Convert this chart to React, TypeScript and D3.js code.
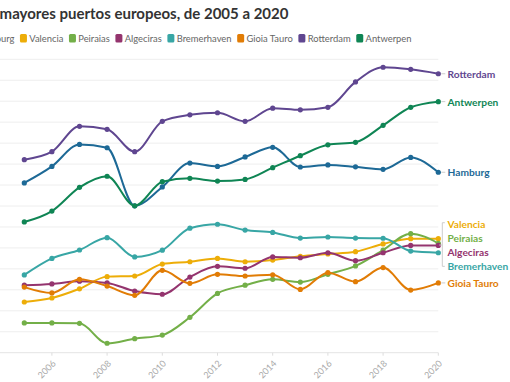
import React, { useEffect, useRef } from 'react';
import * as d3 from 'd3';

const titleText = 'Los 8 mayores puertos europeos, de 2005 a 2020';
const years = [2005, 2006, 2007, 2008, 2009, 2010, 2011, 2012, 2013, 2014, 2015, 2016, 2017, 2018, 2019, 2020];
const xTickYears = [2006, 2008, 2010, 2012, 2014, 2016, 2018, 2020];
const yGridValues = [0, 1, 2, 3, 4, 5, 6, 7, 8, 9, 10, 11, 12, 13, 14];

const seriesNames = ['Hamburg', 'Valencia', 'Peiraias', 'Algeciras', 'Bremerhaven', 'Gioia Tauro', 'Rotterdam', 'Antwerpen'];

const hamburg = [8.10, 8.89, 9.94, 9.78, 7.01, 7.91, 9.05, 8.89, 9.34, 9.80, 8.86, 8.96, 8.87, 8.75, 9.32, 8.61];
const valencia = [2.42, 2.61, 3.05, 3.63, 3.66, 4.23, 4.34, 4.50, 4.34, 4.42, 4.60, 4.71, 4.82, 5.19, 5.44, 5.44];
const peiraias = [1.42, 1.42, 1.40, 0.45, 0.67, 0.84, 1.69, 2.83, 3.22, 3.50, 3.37, 3.74, 4.14, 4.90, 5.68, 5.22];
const algeciras = [3.22, 3.28, 3.41, 3.33, 2.94, 2.79, 3.61, 4.12, 4.03, 4.57, 4.53, 4.77, 4.39, 4.77, 5.12, 5.12];
const bremerhaven = [3.71, 4.50, 4.90, 5.49, 4.57, 4.89, 5.94, 6.13, 5.85, 5.74, 5.47, 5.52, 5.47, 5.46, 4.85, 4.77];
const gioiaTauro = [3.13, 2.85, 3.50, 3.18, 2.74, 3.93, 3.31, 3.74, 3.66, 3.72, 3.02, 3.82, 3.39, 4.06, 2.99, 3.33];
const rotterdam = [9.21, 9.59, 10.80, 10.66, 9.59, 11.04, 11.35, 11.45, 11.04, 11.67, 11.59, 11.71, 12.92, 13.62, 13.52, 13.31];
const antwerpen = [6.24, 6.76, 7.89, 8.42, 7.01, 8.16, 8.32, 8.19, 8.27, 8.83, 9.40, 9.92, 10.04, 10.85, 11.71, 11.98];

const seriesValues = [hamburg, valencia, peiraias, algeciras, bremerhaven, gioiaTauro, rotterdam, antwerpen];
const seriesColors = ['#1D6996', '#EDAD08', '#73AF48', '#94346E', '#38A6A5', '#E17C05', '#5F4690', '#0F8554'];

const W = 510;
const H = 382;
const LEFT = -36;

export default function App() {
  const ref = useRef<SVGSVGElement | null>(null);

  useEffect(() => {
    document.body.style.margin = '0';
    const svg = d3.select(ref.current);
    svg.selectAll('*').remove();

    const x = d3.scaleLinear().domain([2005, 2020]).range([24.3, 438.3]);
    const y = d3.scaleLinear().domain([0, 14]).range([352.7, 59.3]);

    svg.append('rect').attr('width', W).attr('height', H).attr('fill', '#fff');

    // title
    svg.append('text')
      .attr('x', LEFT - 3).attr('y', 18.5)
      .attr('font-family', 'Lato').attr('font-weight', 700).attr('font-size', 15)
      .attr('fill', '#333').text(titleText);

    // legend
    const lg = svg.append('g').attr('font-family', 'Lato').attr('font-size', 9.4);
    let lx = LEFT + 3;
    seriesNames.forEach((name, i) => {
      lg.append('rect').attr('x', lx).attr('y', 34).attr('width', 7).attr('height', 8.5).attr('rx', 1.5)
        .attr('fill', seriesColors[i]);
      const t = lg.append('text').attr('x', lx + 9.3).attr('y', 41.5).attr('fill', '#666').text(name);
      const w = (t.node() as SVGTextElement).getComputedTextLength();
      lx += 9.3 + w + 5.6;
    });

    // gridlines
    const grid = svg.append('g');
    yGridValues.forEach(v => {
      grid.append('line').attr('x1', LEFT).attr('x2', x(2020)).attr('y1', y(v)).attr('y2', y(v))
        .attr('stroke', v === 0 ? '#e4e4e4' : '#eeeeee').attr('stroke-width', 1);
    });

    // x ticks and labels
    const ax = svg.append('g');
    xTickYears.forEach(yr => {
      ax.append('line').attr('x1', x(yr)).attr('x2', x(yr)).attr('y1', y(0)).attr('y2', y(0) + 3)
        .attr('stroke', '#ddd');
      ax.append('text')
        .attr('transform', `translate(${x(yr) + 2},${y(0) + 9}) rotate(-45)`)
        .attr('text-anchor', 'end').attr('dominant-baseline', 'central')
        .attr('font-family', 'Lato').attr('font-size', 9).attr('fill', '#aaa').text(String(yr));
    });

    // lines
    const line = d3.line<number>().x((_, i) => x(years[i])).y(d => y(d)).curve(d3.curveMonotoneX);
    seriesValues.forEach((vals, si) => {
      const g = svg.append('g');
      g.append('path').attr('d', line(vals) as string).attr('fill', 'none')
        .attr('stroke', seriesColors[si]).attr('stroke-width', 2).attr('stroke-linejoin', 'round');
      vals.forEach((v, i) => {
        g.append('circle').attr('cx', x(years[i])).attr('cy', y(v)).attr('r', 2.6).attr('fill', seriesColors[si]);
      });
    });

    // right labels with collision clustering
    const spacing = 14.2;
    const items = seriesNames.map((name, i) => ({ name, color: seriesColors[i], py: y(seriesValues[i][years.length - 1]) }))
      .sort((a, b) => a.py - b.py);
    const clusters: { members: typeof items; center: number }[] = [];
    items.forEach(it => {
      const last = clusters[clusters.length - 1];
      if (last && it.py - last.members[last.members.length - 1].py < spacing) {
        last.members.push(it);
      } else {
        clusters.push({ members: [it], center: 0 });
      }
    });
    const lab = svg.append('g');
    const x2020 = x(2020);
    clusters.forEach(c => {
      c.center = d3.mean(c.members, m => m.py) as number;
      const n = c.members.length;
      c.members.forEach((m, k) => {
        const ly = c.center + (k - (n - 1) / 2) * spacing;
        lab.append('text').attr('x', x2020 + 9.2).attr('y', ly).attr('dominant-baseline', 'central')
          .attr('font-family', 'Lato').attr('font-weight', 700).attr('font-size', 10.2)
          .attr('fill', m.color).text(m.name);
      });
      if (n === 1) {
        lab.append('line').attr('x1', x2020 + 3).attr('x2', x2020 + 7).attr('y1', c.center).attr('y2', c.center)
          .attr('stroke', '#ccc');
      } else {
        const top = c.center - ((n - 1) / 2) * spacing - 1;
        const bot = c.center + ((n - 1) / 2) * spacing;
        const bx = x2020 + 4;
        lab.append('path')
          .attr('d', `M${bx + 2.5},${top}H${bx}V${bot}H${bx + 2.5}M${x2020 + 1},${c.center}H${bx}`)
          .attr('fill', 'none').attr('stroke', '#ccc');
      }
    });
  }, []);

  return <svg ref={ref} width={W} height={H} style={{ display: 'block' }} />;
}
